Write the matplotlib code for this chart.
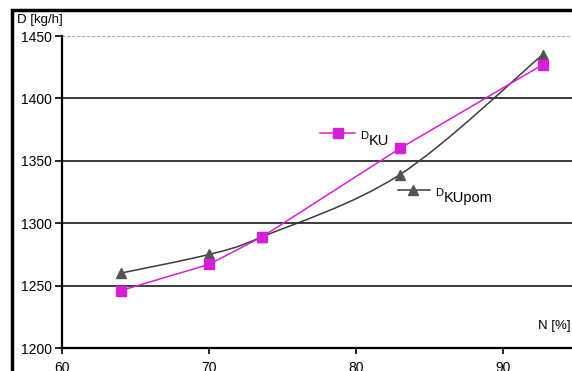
import matplotlib
matplotlib.use("Agg")
import matplotlib.pyplot as plt
from matplotlib.path import Path
from matplotlib.patches import PathPatch, Rectangle

plt.rcParams['font.family'] = ['Liberation Sans', 'DejaVu Sans']

# values
n_pct = [64.0, 70.0, 73.6, 83.0, 92.7]
d_ku = [1246, 1267, 1289, 1360, 1427]
d_kupom = [1260, 1275, 1289, 1339, 1435]
y_ticks = [1200, 1250, 1300, 1350, 1400, 1450]
x_ticks = [60, 70, 80, 90]

magenta = '#d81fd8'
dark = '#3c3c34'

fig = plt.figure(figsize=(5.72, 3.71), dpi=100)
ax = fig.add_axes([62 / 572, 23 / 371, 1 - 62 / 572, 312 / 371])
ax.set_xlim(60, 94.7)
ax.set_ylim(1200, 1450)

# grid lines
for y in y_ticks[1:-1]:
    ax.axhline(y, color='#3a3a3a', lw=1.4, zorder=1)
ax.axhline(1450, color='#9a9a9a', lw=1.2, ls=(0, (2, 1)), zorder=1)

# D_KU : straight segments
ax.plot(n_pct, d_ku, color=magenta, lw=1.1, marker='s', ms=6.5,
        mfc=magenta, mec=magenta, zorder=4)

# D_KUpom : smoothed line (Bezier through the points, Excel style)
pts = list(zip(n_pct, d_kupom))
verts = [pts[0]]
codes = [Path.MOVETO]
for i in range(len(pts) - 1):
    p0 = pts[i - 1] if i > 0 else pts[i]
    p1 = pts[i]
    p2 = pts[i + 1]
    p3 = pts[i + 2] if i + 2 < len(pts) else pts[i + 1]
    c1 = (p1[0] + (p2[0] - p0[0]) / 6, p1[1] + (p2[1] - p0[1]) / 6)
    c2 = (p2[0] - (p3[0] - p1[0]) / 6, p2[1] - (p3[1] - p1[1]) / 6)
    verts += [c1, c2, p2]
    codes += [Path.CURVE4] * 3
ax.add_patch(PathPatch(Path(verts, codes), fill=False, edgecolor=dark,
                       lw=1.1, zorder=3))
ax.plot(n_pct, d_kupom, ls='none', marker='^', ms=6.5, mfc='#555550',
        mec='#555550', zorder=3)

# series labels
ax.plot([77.55, 79.93], [1372, 1372], color=magenta, lw=1.1, zorder=4)
ax.plot([78.8], [1372], marker='s', ms=6.5, color=magenta, zorder=4)
ax.text(80.3, 1367.5, 'D', fontsize=8, ha='left', va='baseline')
ax.text(80.9, 1362.5, 'KU', fontsize=10.5, ha='left', va='baseline')
ax.plot([82.86, 85.03], [1326.6, 1326.6], color=dark, lw=1.1, zorder=4)
ax.plot([83.9], [1326.6], marker='^', ms=6.5, color='#555550', zorder=4)
ax.text(85.4, 1322, 'D', fontsize=8, ha='left', va='baseline')
ax.text(86.0, 1317, 'KUpom', fontsize=10.5, ha='left', va='baseline')

# axes styling
for s in ['top', 'right']:
    ax.spines[s].set_visible(False)
ax.spines['left'].set_linewidth(1.6)
ax.spines['bottom'].set_linewidth(1.6)
ax.set_yticks(y_ticks)
ax.set_xticks(x_ticks)
ax.tick_params(axis='y', length=5, width=1.2, labelsize=10, pad=2)
ax.tick_params(axis='x', length=4, width=1.2, labelsize=10, pad=5)

fig.text(17 / 572, 1 - 20 / 371, 'D [kg/h]', fontsize=9.5, ha='left', va='center')
ax.text(94.6, 1213, 'N [%]', fontsize=9.5, ha='right', va='bottom')

# outer frame (top and left edges visible)
fig.add_artist(Rectangle((12 / 572, -0.1), 1.2, 1 - 10 / 371 + 0.1,
                         transform=fig.transFigure, fill=False,
                         edgecolor='black', lw=2.5))

fig.savefig('out.png', dpi=100, facecolor='white')
